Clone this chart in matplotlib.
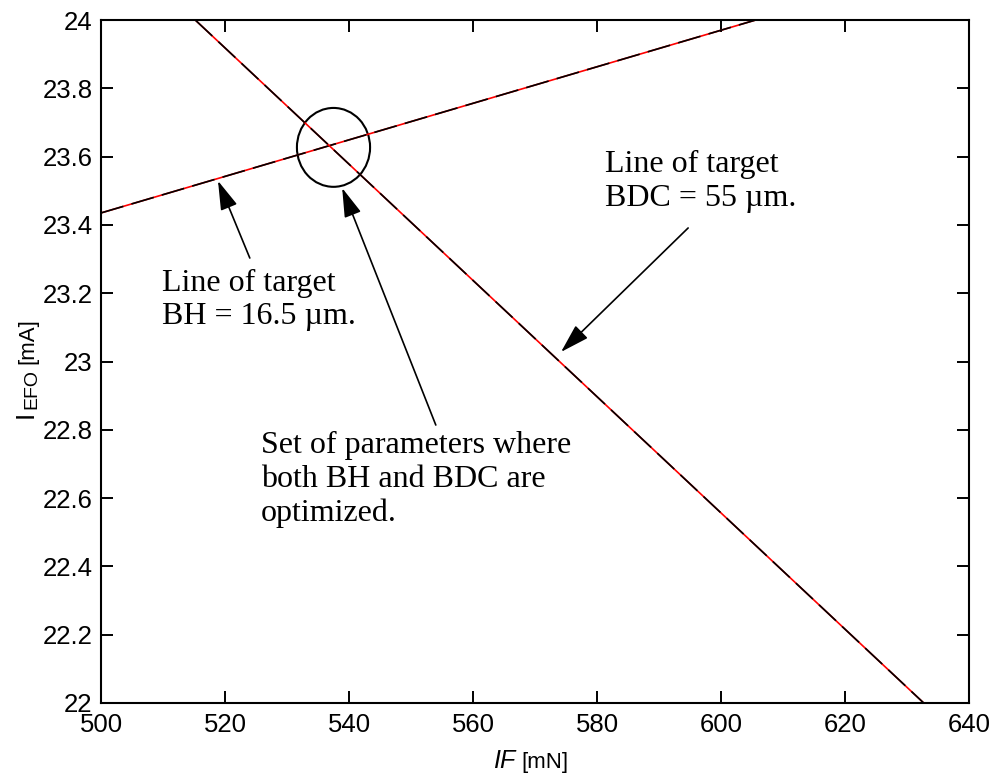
import matplotlib
matplotlib.use('Agg')
import matplotlib.pyplot as plt
from matplotlib.patches import Ellipse

# line of target BH = 16.5 um
bh_if = [500.0, 605.6]
bh_iefo = [23.435, 24.0]
# line of target BDC = 55 um
bdc_if = [515.2, 632.7]
bdc_iefo = [24.0, 22.0]

# optimum region
opt_center = (537.5, 23.627)
opt_size = (11.8, 0.231)

xticks = [500, 520, 540, 560, 580, 600, 620, 640]
yticks = [22, 22.2, 22.4, 22.6, 22.8, 23, 23.2, 23.4, 23.6, 23.8, 24]
ytick_labels = ['22', '22.2', '22.4', '22.6', '22.8', '23', '23.2', '23.4', '23.6', '23.8', '24']

plt.rcParams['font.family'] = ['Liberation Sans', 'DejaVu Sans']

W, H = 993, 777
fig = plt.figure(figsize=(W / 100, H / 100), dpi=100)
ax = fig.add_axes([101 / W, 1 - 703 / H, 868 / W, 683 / H])

for xs, ys in [(bh_if, bh_iefo), (bdc_if, bdc_iefo)]:
    ax.plot(xs, ys, color='red', lw=1.2, solid_capstyle='butt')
    ax.plot(xs, ys, color='black', lw=1.2, dashes=(14, 5))

ax.add_patch(Ellipse(opt_center, opt_size[0], opt_size[1], fill=False,
                     ec='black', lw=1.5))

ax.set_xlim(500, 640)
ax.set_ylim(22, 24)
ax.set_xticks(xticks)
ax.set_yticks(yticks)
ax.set_yticklabels(ytick_labels)
ax.tick_params(direction='in', length=8.5, width=1.4, top=True, right=True,
               labelsize=18.5)
ax.tick_params(axis='x', pad=7)
ax.tick_params(axis='y', pad=6)
for s in ax.spines.values():
    s.set_linewidth(1.5)

# axis labels built from pieces with different sizes
fig.canvas.draw()
r = fig.canvas.get_renderer()
t1 = fig.text(493 / W, 1 - 768 / H, 'IF', fontsize=18, style='italic',
              ha='left', va='baseline')
e = t1.get_window_extent(r)
fig.text((e.x1 + 6) / W, 1 - 768 / H, '[mN]', fontsize=16,
         ha='left', va='baseline')

rot = dict(rotation=90, rotation_mode='anchor', ha='left', va='baseline')
t2 = fig.text(33 / W, 1 - 418 / H, 'I', fontsize=19, **rot)
e = t2.get_window_extent(r)
t3 = fig.text(36 / W, (e.y1 + 2) / H, 'EFO', fontsize=14, **rot)
e = t3.get_window_extent(r)
fig.text(33 / W, (e.y1 + 5) / H, '[mA]', fontsize=16, **rot)

serif = ['Liberation Serif', 'DejaVu Serif']
arrow = dict(arrowstyle='-|>,head_length=0.6,head_width=0.18', color='black',
             lw=1.2, shrinkA=0, shrinkB=0, mutation_scale=30)

ax.text(509.8, 23.18, 'Line of target\nBH = 16.5 \u00b5m.', family=serif,
        fontsize=23, ha='left', va='center', linespacing=1.22)
ax.annotate('', xy=(518.87, 23.529), xytext=(524.0, 23.303), arrowprops=arrow)

ax.text(581.3, 23.527, 'Line of target\nBDC = 55 \u00b5m.', family=serif,
        fontsize=23, ha='left', va='center', linespacing=1.22)
ax.annotate('', xy=(574.2, 23.028), xytext=(594.7, 23.391), arrowprops=arrow)

ax.text(525.8, 22.655, 'Set of parameters where\nboth BH and BDC are\noptimized.',
        family=serif, fontsize=23, ha='left', va='center', linespacing=1.22)
ax.annotate('', xy=(538.9, 23.508), xytext=(554.0, 22.814), arrowprops=arrow)

fig.savefig('out.png', dpi=100)
